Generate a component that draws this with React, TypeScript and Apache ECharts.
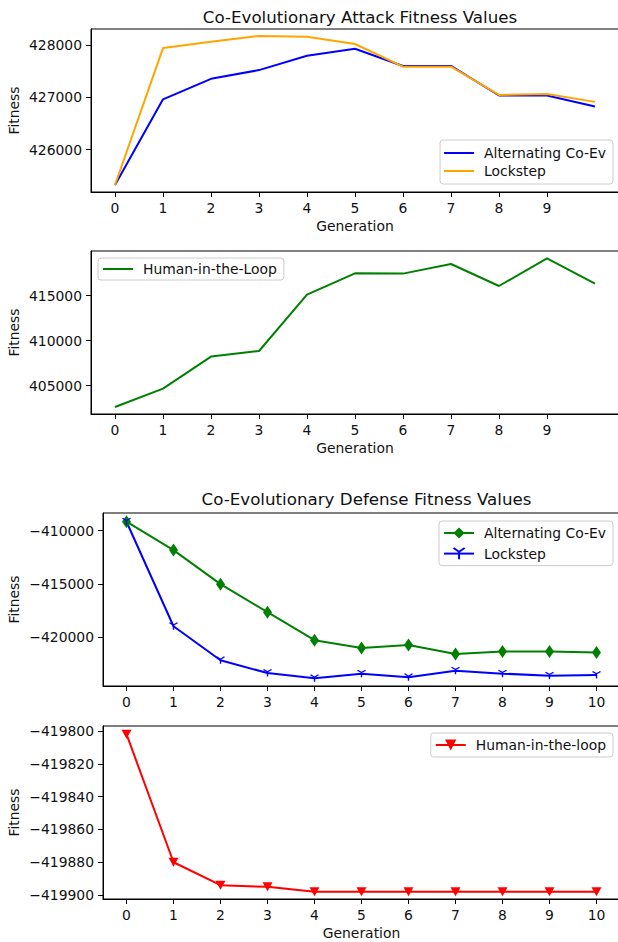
import React, { useEffect, useRef } from "react";
import * as echarts from "echarts";

const generations = [0, 1, 2, 3, 4, 5, 6, 7, 8, 9, 10];
const attackTicksX = [0, 1, 2, 3, 4, 5, 6, 7, 8, 9];
const defenseTicksX = [0, 1, 2, 3, 4, 5, 6, 7, 8, 9, 10];

const attackAlternating = [425324, 426965, 427358, 427525, 427800, 427933, 427604, 427604, 427038, 427038, 426828];
const attackLockstep = [425324, 427947, 428069, 428178, 428165, 428025, 427590, 427590, 427050, 427069, 426916];
const attackHuman = [402622, 404667, 408222, 408844, 415111, 417478, 417444, 418511, 416067, 419144, 416333];

const defenseAlternating = [-409151, -411821, -415031, -417673, -420311, -421038, -420754, -421604, -421384, -421384, -421478];
const defenseLockstep = [-409151, -418994, -422204, -423402, -423902, -423459, -423808, -423179, -423459, -423648, -423585];
const defenseHuman = [-419802, -419880, -419894, -419895, -419898, -419898, -419898, -419898, -419898, -419898, -419898];

const attackTicksY = [426000, 427000, 428000];
const humanAttackTicksY = [405000, 410000, 415000];
const defenseTicksY = [-420000, -415000, -410000];
const humanDefenseTicksY = [-419900, -419880, -419860, -419840, -419820, -419800];

const legendNames: Record<string, string> = {
  "att-alt": "Alternating Co-Ev",
  "att-lock": "Lockstep",
  "att-human": "Human-in-the-Loop",
  "def-alt": "Alternating Co-Ev",
  "def-lock": "Lockstep",
  "def-human": "Human-in-the-loop",
};

const FONT = "DejaVu Sans";
const TXT = "#111";

function pairs(vals: number[]) {
  return vals.map((v, i) => [generations[i], v]);
}

function fmt(v: number) {
  return v < 0 ? "\u2212" + String(Math.abs(v)) : String(v);
}

function xAxis(gridIndex: number, ticks: number[], withName: boolean) {
  return {
    type: "value",
    gridIndex,
    min: -0.5,
    max: 10.5,
    name: withName ? "Generation" : "",
    nameLocation: "middle",
    nameGap: 27,
    nameMoveOverlap: false,
    nameTextStyle: { fontFamily: FONT, fontSize: 13.9, color: TXT },
    splitLine: { show: false },
    axisLine: { show: true, onZero: false, lineStyle: { color: "#000", width: 1 } },
    axisTick: { show: true, inside: false, length: 5, customValues: ticks, lineStyle: { color: "#000", width: 1 } },
    axisLabel: {
      customValues: ticks,
      margin: 9,
      fontFamily: FONT,
      fontSize: 13.9,
      color: TXT,
      formatter: (v: number) => String(v),
    },
  };
}

function yAxis(gridIndex: number, min: number, max: number, ticks: number[], gap: number) {
  return {
    type: "value",
    gridIndex,
    min,
    max,
    name: "Fitness",
    nameLocation: "middle",
    nameGap: gap,
    nameMoveOverlap: false,
    nameTextStyle: { fontFamily: FONT, fontSize: 13.9, color: TXT },
    splitLine: { show: false },
    axisLine: { show: true, onZero: false, lineStyle: { color: "#000", width: 1 } },
    axisTick: { show: true, inside: false, length: 5, customValues: ticks, lineStyle: { color: "#000", width: 1 } },
    axisLabel: {
      customValues: ticks,
      margin: 9,
      fontFamily: FONT,
      fontSize: 13.9,
      color: TXT,
      formatter: (v: number) => fmt(v),
    },
  };
}

function legend(names: any[], pos: any, itemHeight: number, itemGap: number, padding: number[]) {
  return {
    data: names,
    orient: "vertical",
    ...pos,
    itemWidth: 30,
    itemHeight,
    itemGap,
    padding,
    backgroundColor: "rgba(255,255,255,0.8)",
    borderColor: "#cccccc",
    borderWidth: 1,
    borderRadius: 3,
    formatter: (n: string) => legendNames[n] || n,
    textStyle: { fontFamily: FONT, fontSize: 13.9, color: TXT, padding: [0, 0, 0, 5] },
    selectedMode: false,
  };
}

const triDown = "path://M0,0L0,10M0,0L-8.66,-5M0,0L8.66,-5";

export default function App() {
  const ref = useRef<HTMLDivElement>(null);
  useEffect(() => {
    if (!ref.current) return;
    const chart = echarts.init(ref.current, null, { renderer: "svg" });
    const option: any = {
      animation: false,
      backgroundColor: "#fff",
      title: [
        {
          text: "Co-Evolutionary Attack Fitness Values",
          left: 355,
          top: 3,
          textAlign: "center",
          textStyle: { fontFamily: FONT, fontSize: 16.7, fontWeight: "normal", color: TXT },
        },
        {
          text: "Co-Evolutionary Defense Fitness Values",
          left: 361.5,
          top: 485.5,
          textAlign: "center",
          textStyle: { fontFamily: FONT, fontSize: 16.7, fontWeight: "normal", color: TXT },
        },
      ],
      grid: [
        { left: 91, top: 29, width: 528, height: 163, show: true, borderColor: "#000", borderWidth: 1, backgroundColor: "transparent", outerBoundsMode: "none" },
        { left: 91, top: 251, width: 528, height: 163, show: true, borderColor: "#000", borderWidth: 1, backgroundColor: "transparent", outerBoundsMode: "none" },
        { left: 103, top: 513, width: 517, height: 173, show: true, borderColor: "#000", borderWidth: 1, backgroundColor: "transparent", outerBoundsMode: "none" },
        { left: 103, top: 726, width: 517, height: 173, show: true, borderColor: "#000", borderWidth: 1, backgroundColor: "transparent", outerBoundsMode: "none" },
      ],
      xAxis: [
        xAxis(0, attackTicksX, true),
        xAxis(1, attackTicksX, true),
        xAxis(2, defenseTicksX, false),
        xAxis(3, defenseTicksX, true),
      ],
      yAxis: [
        yAxis(0, 425190, 428312, attackTicksY, 70),
        yAxis(1, 401844, 419956, humanAttackTicksY, 70),
        yAxis(2, -424623, -408330, defenseTicksY, 82),
        yAxis(3, -419902.4, -419797, humanDefenseTicksY, 82),
      ],
      legend: [
        legend([{ name: "att-alt", icon: "rect" }, { name: "att-lock", icon: "rect" }], { right: 5, top: 140 }, 2, 4, [6, 7, 6, 4]),
        legend([{ name: "att-human", icon: "rect" }], { left: 98, top: 258 }, 2, 4, [4, 7, 4, 5]),
        legend(["def-alt", "def-lock"], { right: 5, top: 521 }, 14, 6.6, [5, 7, 5, 4]),
        legend(["def-human"], { right: 5, top: 733 }, 14, 6.6, [5, 7, 5, 4]),
      ],
      series: [
        {
          name: "att-alt", type: "line", xAxisIndex: 0, yAxisIndex: 0, data: pairs(attackAlternating),
          symbol: "none", lineStyle: { color: "#0000ff", width: 2 }, itemStyle: { color: "#0000ff" },
        },
        {
          name: "att-lock", type: "line", xAxisIndex: 0, yAxisIndex: 0, data: pairs(attackLockstep),
          symbol: "none", lineStyle: { color: "#ffa500", width: 2 }, itemStyle: { color: "#ffa500" },
        },
        {
          name: "att-human", type: "line", xAxisIndex: 1, yAxisIndex: 1, data: pairs(attackHuman),
          symbol: "none", lineStyle: { color: "#008000", width: 2 }, itemStyle: { color: "#008000" },
        },
        {
          name: "def-alt", type: "line", xAxisIndex: 2, yAxisIndex: 2, data: pairs(defenseAlternating),
          symbol: "diamond", symbolSize: [9, 13], lineStyle: { color: "#008000", width: 2 }, itemStyle: { color: "#008000" },
        },
        {
          name: "def-lock", type: "line", xAxisIndex: 2, yAxisIndex: 2, data: pairs(defenseLockstep),
          symbol: triDown, symbolSize: [8, 7], lineStyle: { color: "#0000ff", width: 2 },
          itemStyle: { color: "#0000ff", borderColor: "#0000ff", borderWidth: 1.3 },
        },
        {
          name: "def-human", type: "line", xAxisIndex: 3, yAxisIndex: 3, data: pairs(defenseHuman),
          symbol: "triangle", symbolRotate: 180, symbolSize: [10, 9], lineStyle: { color: "#ff0000", width: 2 }, itemStyle: { color: "#ff0000" },
        },
      ],
    };
    chart.setOption(option);
    return () => chart.dispose();
  }, []);
  return <div ref={ref} style={{ position: "absolute", left: 0, top: 0, width: 618, height: 942 }} />;
}
